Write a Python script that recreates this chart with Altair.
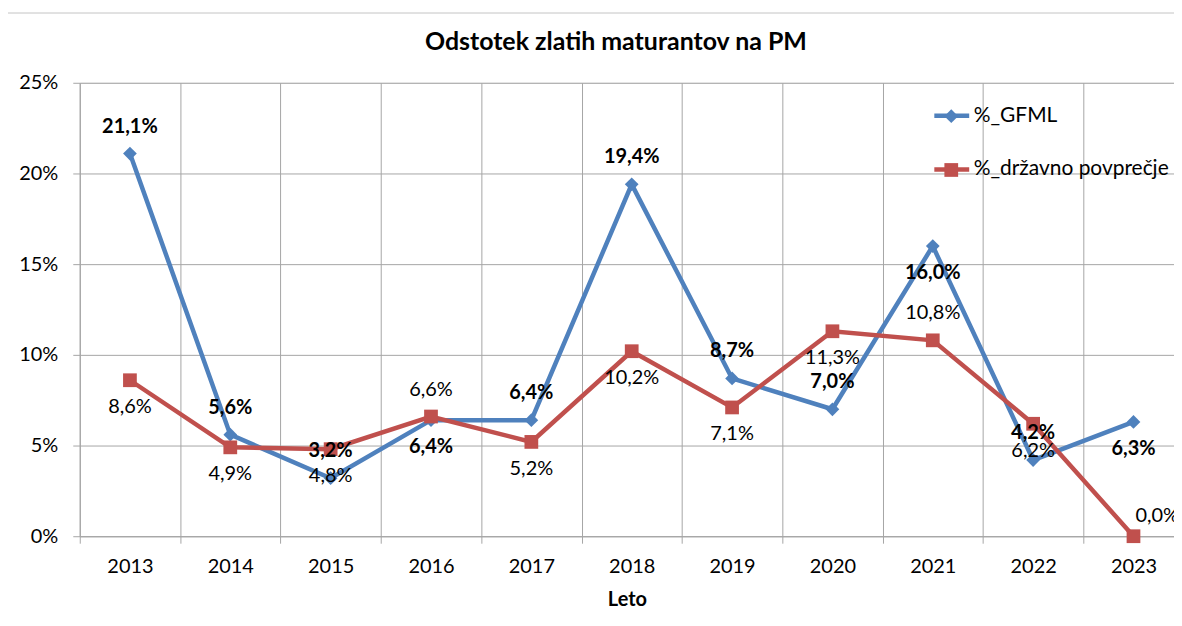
import altair as alt
import pandas as pd

# ---- data ----
years = [2013, 2014, 2015, 2016, 2017, 2018, 2019, 2020, 2021, 2022, 2023]
gfml = [21.1, 5.6, 3.2, 6.4, 6.4, 19.4, 8.7, 7.0, 16.0, 4.2, 6.3]
drzavno = [8.6, 4.9, 4.8, 6.6, 5.2, 10.2, 7.1, 11.3, 10.8, 6.2, 0.0]
series_names = ["%_GFML", "%_državno povprečje"]
series_colors = ["#4F81BD", "#C0504D"]
series_shapes = ["diamond", "square"]
gfml_label_side = ["nad", "nad", "nad", "pod", "nad", "nad", "nad", "nad", "pod", "nad", "pod"]
drzavno_label_side = ["pod", "pod", "pod", "nad", "pod", "pod", "pod", "pod", "nad", "pod", "desno"]
y_ticks = [0, 5, 10, 15, 20, 25]
title_text = "Odstotek zlatih maturantov na PM"
x_title = "Leto"

rows = []
for name, vals, sides in [(series_names[0], gfml, gfml_label_side),
                          (series_names[1], drzavno, drzavno_label_side)]:
    for yr, v, s in zip(years, vals, sides):
        rows.append({"Leto": yr, "Serija": name, "Serija2": name, "Vrednost": v,
                     "Oznaka": f"{v:.1f}".replace(".", ",") + "%", "Stran": s})
df = pd.DataFrame(rows)

FONT = "Lato"
GRID = "#a6a6a6"
W, H = 1098, 455
band = 100.7
x_boundaries = [y - 0.5 for y in years]
FS = 20

x_enc = alt.X(
    "Leto:Q",
    scale=alt.Scale(domain=[years[0] - 0.5, years[0] - 0.5 + W / band], nice=False, zero=False),
    axis=alt.Axis(
        values=x_boundaries, labelExpr="format(datum.value + 0.5, 'd')",
        labelOffset=band / 2, labelFlush=False, labelOverlap=False,
        grid=True, gridColor=GRID, tickColor=GRID, domainColor=GRID,
        tickSize=7, labelFontSize=FS, labelFont=FONT, labelColor="black",
        labelPadding=13, title=x_title, titleFont=FONT, titleFontSize=FS,
        titleFontWeight="bold", titleColor="black", titlePadding=14,
    ),
)
y_enc = alt.Y(
    "Vrednost:Q",
    scale=alt.Scale(domain=[0, 25], nice=False),
    axis=alt.Axis(
        values=y_ticks, labelExpr="datum.value + '%'",
        grid=True, gridColor=GRID, tickColor=GRID, domainColor=GRID,
        tickSize=7, labelFontSize=FS, labelFont=FONT, labelColor="black",
        labelPadding=15, title=None,
    ),
)

base = alt.Chart(df)

lines = base.mark_line(strokeWidth=4.5).encode(
    x=x_enc, y=y_enc,
    color=alt.Color("Serija:N", sort=series_names,
                    scale=alt.Scale(domain=series_names, range=series_colors),
                    legend=alt.Legend(title=None, orient="none", legendX=855, legendY=13,
                                      symbolType="stroke", symbolSize=1225, symbolStrokeWidth=4.5,
                                      labelFontSize=21, labelFont=FONT, labelColor="black",
                                      labelLimit=400, labelOffset=2, rowPadding=24, padding=0)),
    detail="Serija:N",
)

leg_b = dict(title=None, orient="none", legendX=864, legendY=23,
             symbolSize=190, labelFontSize=21, labelFont=FONT, labelLimit=400,
             labelOpacity=0, rowPadding=32, padding=0)

points = base.mark_point(filled=True, size=190, opacity=1).encode(
    x="Leto:Q", y="Vrednost:Q",
    color=alt.Color("Serija2:N", sort=series_names,
                    scale=alt.Scale(domain=series_names, range=series_colors),
                    legend=alt.Legend(**leg_b)),
    shape=alt.Shape("Serija2:N", sort=series_names,
                    scale=alt.Scale(domain=series_names, range=series_shapes),
                    legend=alt.Legend(**leg_b)),
)


def labels(series, side, bold, **kw):
    return base.transform_filter(
        (alt.datum.Serija == series) & (alt.datum.Stran == side)
    ).mark_text(font=FONT, fontSize=FS, fontWeight="bold" if bold else "normal",
                color="black", baseline="middle", **kw).encode(
        x="Leto:Q", y="Vrednost:Q", text="Oznaka:N")


lab = [
    labels(series_names[0], "nad", True, dy=-27),
    labels(series_names[0], "pod", True, dy=27),
    labels(series_names[1], "nad", False, dy=-27),
    labels(series_names[1], "pod", False, dy=27),
    labels(series_names[1], "desno", False, dy=-20, dx=2, align="left"),
]

frame_df = pd.DataFrame({"k": [0]})
border_left = alt.Chart(frame_df).mark_rule(color="#c4c4c4", strokeWidth=1).encode(
    x=alt.value(-73), y=alt.value(-70), y2=alt.value(560))
border_top = alt.Chart(frame_df).mark_rule(color="#c4c4c4", strokeWidth=1).encode(
    x=alt.value(-73), x2=alt.value(W), y=alt.value(-70))

chart = alt.layer(border_left, border_top, lines, points, *lab).resolve_scale(
    color="independent", shape="independent"
).properties(
    width=W, height=H,
    title=alt.TitleParams(title_text, font=FONT, fontSize=25, fontWeight="bold",
                          color="black", anchor="middle", dx=-11, offset=-43),
    autosize=alt.AutoSizeParams(type="none"),
    padding={"left": 72, "top": 74, "right": 0, "bottom": 75},
).configure_view(strokeWidth=0).configure(font=FONT)

chart.save("out.html", embed_options={"renderer": "svg", "actions": False})
